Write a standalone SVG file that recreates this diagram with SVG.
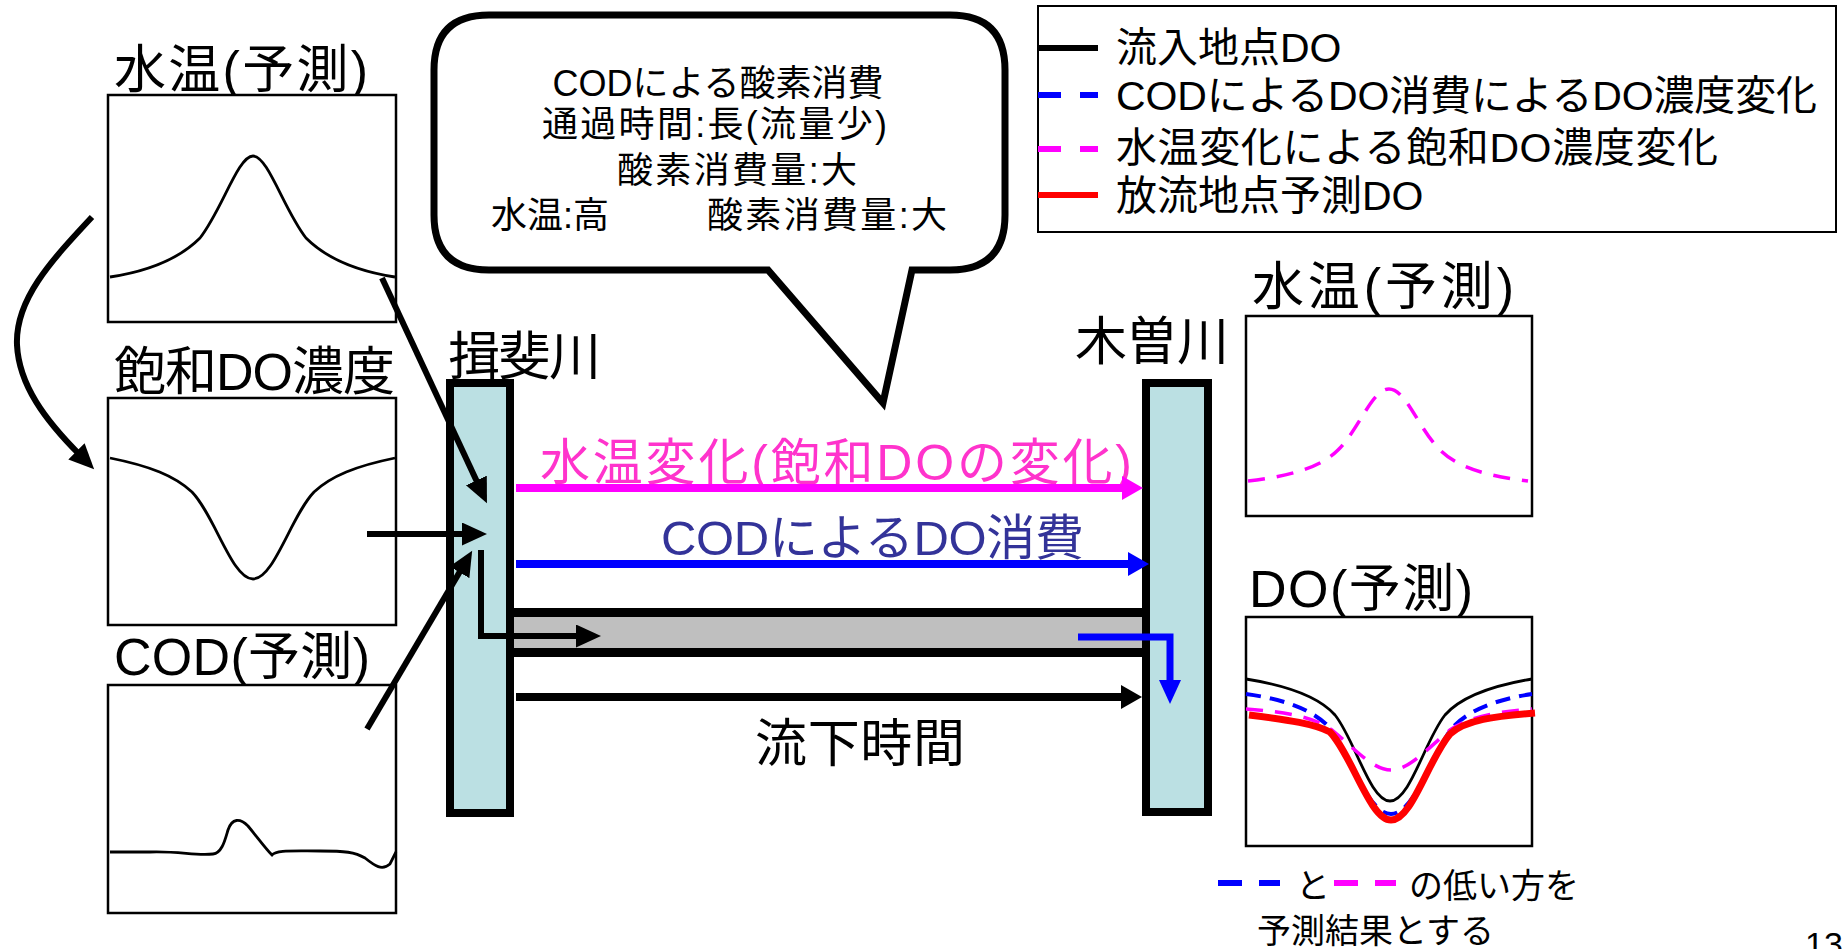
<svg xmlns="http://www.w3.org/2000/svg" width="1847" height="949" viewBox="0 0 1847 949">
<style>
text{font-family:"Liberation Sans","Noto Sans CJK JP",sans-serif;fill:#000}
.t52{font-size:52px}
.t36{font-size:36px}
.t41{font-size:41px}
.t34{font-size:34px}
.box{fill:#fff;stroke:#000;stroke-width:2.5}
.crv{fill:none;stroke:#000;stroke-width:2.8}
.river{fill:#bbe0e3;stroke:#000;stroke-width:8}
.conn{fill:none;stroke:#000;stroke-width:6}
.mdash{fill:none;stroke:#ff00ff;stroke-width:3.5;stroke-dasharray:17 12}
.bdash{fill:none;stroke:#0000ff;stroke-width:4;stroke-dasharray:15 9}
</style>
<defs>
<marker id="hc" markerUnits="userSpaceOnUse" markerWidth="26" markerHeight="24" refX="5" refY="11.5" orient="auto"><path d="M0,0 L25,11.5 L0,23 Z" fill="#000"/></marker>
<marker id="hk" markerUnits="userSpaceOnUse" markerWidth="22" markerHeight="24" refX="3" refY="12" orient="auto"><path d="M0,0 L21,12 L0,24 Z" fill="#000"/></marker>
<marker id="hm" markerUnits="userSpaceOnUse" markerWidth="22" markerHeight="24" refX="3" refY="12" orient="auto"><path d="M0,0 L21,12 L0,24 Z" fill="#ff00ff"/></marker>
<marker id="hb" markerUnits="userSpaceOnUse" markerWidth="22" markerHeight="24" refX="3" refY="12" orient="auto"><path d="M0,0 L21,12 L0,24 Z" fill="#0000ff"/></marker>
<marker id="hb2" markerUnits="userSpaceOnUse" markerWidth="25" markerHeight="23" refX="5" refY="11" orient="auto"><path d="M0,0 L24,11 L0,22 Z" fill="#0000ff"/></marker>
</defs>
<rect width="1847" height="949" fill="#fff"/>

<g id="plot-left-temp">
<text class="t52" x="114" y="88" textLength="254" lengthAdjust="spacing">水温(予測)</text>
<rect class="box" x="108" y="95" width="288" height="227"/>
<path class="crv" d="M110,277 C150,271 180,258 200,238 C222,210 238,156 253,156 C268,156 284,210 306,238 C326,258 356,271 395,277"/>
</g>

<g id="plot-left-do">
<text class="t52" x="114" y="390" textLength="281" lengthAdjust="spacing">飽和DO濃度</text>
<rect class="box" x="108" y="398" width="288" height="227"/>
<path class="crv" d="M110,458 C150,466 175,476 192,492 C215,516 232,579 253,579 C274,579 291,516 314,492 C331,476 356,466 395,458"/>
</g>

<g id="plot-left-cod">
<text class="t52" x="114" y="675" textLength="256" lengthAdjust="spacing">COD(予測)</text>
<rect class="box" x="108" y="685" width="288" height="228"/>
<path class="crv" d="M110,852 L150,852 C180,851 195,856 213,854 C222,853 225,840 228,830 C232,818 240,818 248,826 C258,838 265,848 272,855 C276,850 290,851 320,851 C345,851 355,852 365,858 C375,866 382,871 390,864 L396,852"/>
</g>

<g id="bubble">
<path d="M489,15 H950 Q1005,15 1005,70 V215 Q1005,270 950,270 H912 L883,403 L768,270 H489 Q434,270 434,215 V70 Q434,15 489,15 Z" fill="#fff" stroke="#000" stroke-width="7" stroke-linejoin="miter"/>
<text class="t36" x="718" y="96" text-anchor="middle">CODによる酸素消費</text>
<text class="t36" x="542" y="137" textLength="345" lengthAdjust="spacing">通過時間:長(流量少)</text>
<text class="t36" x="617" y="183" textLength="240" lengthAdjust="spacing">酸素消費量:大</text>
<text class="t36" x="491" y="228">水温:高</text>
<text class="t36" x="707" y="228" textLength="240" lengthAdjust="spacing">酸素消費量:大</text>
</g>

<g id="legend">
<rect x="1038" y="6" width="798" height="226" fill="#fff" stroke="#000" stroke-width="2"/>
<line x1="1038" y1="48" x2="1098" y2="48" stroke="#000" stroke-width="6"/>
<line x1="1038" y1="95" x2="1098" y2="95" stroke="#0000ff" stroke-width="6" stroke-dasharray="23 19"/>
<line x1="1038" y1="149" x2="1098" y2="149" stroke="#ff00ff" stroke-width="6" stroke-dasharray="23 19"/>
<line x1="1038" y1="195" x2="1098" y2="195" stroke="#ff0000" stroke-width="6"/>
<text class="t41" x="1116" y="62">流入地点DO</text>
<text class="t41" x="1116" y="110" textLength="701" lengthAdjust="spacing">CODによるDO消費によるDO濃度変化</text>
<text class="t41" x="1116" y="162" textLength="602" lengthAdjust="spacing">水温変化による飽和DO濃度変化</text>
<text class="t41" x="1116" y="210">放流地点予測DO</text>
</g>

<g id="channel">
<rect x="514" y="612" width="632" height="41" fill="#bfbfbf"/>
<line x1="514" y1="612.5" x2="1146" y2="612.5" stroke="#000" stroke-width="9"/>
<line x1="514" y1="652.5" x2="1146" y2="652.5" stroke="#000" stroke-width="9"/>
</g>

<g id="river-ibi">
<text class="t52" x="448" y="375" textLength="153" lengthAdjust="spacing">揖斐川</text>
<rect class="river" x="450" y="383" width="60" height="430"/>
</g>

<g id="river-kiso">
<text class="t52" x="1075" y="360" textLength="154" lengthAdjust="spacing">木曽川</text>
<rect class="river" x="1146" y="383" width="62" height="429"/>
</g>

<g id="labels">
<text x="540" y="480" font-size="50" fill="#ff33cc" style="fill:#ff33cc" textLength="592" lengthAdjust="spacing">水温変化(飽和DOの変化)</text>
<text x="661" y="555" font-size="49" style="fill:#333399" textLength="423" lengthAdjust="spacing">CODによるDO消費</text>
<text class="t52" x="755" y="762" textLength="210" lengthAdjust="spacing">流下時間</text>
</g>

<g id="connectors">
<path class="conn" d="M92,217 C50,262 15,300 17,345 C19,385 45,420 80,455" marker-end="url(#hc)"/>
<path class="conn" d="M382,278 L478.5,485" marker-end="url(#hc)"/>
<path class="conn" d="M367,534 L467,534" marker-end="url(#hc)"/>
<path class="conn" d="M367,729 L462,568" marker-end="url(#hc)"/>
<path class="conn" d="M481,550 L481,636 L581,636" marker-end="url(#hc)"/>
<path d="M516,488 L1125,488" fill="none" stroke="#ff00ff" stroke-width="8" marker-end="url(#hm)"/>
<path d="M516,564 L1131,564" fill="none" stroke="#0000ff" stroke-width="8" marker-end="url(#hb)"/>
<path d="M516,697 L1124,697" fill="none" stroke="#000" stroke-width="8" marker-end="url(#hk)"/>
<path d="M1078,637 L1170,637 L1170,685" fill="none" stroke="#0000ff" stroke-width="7" marker-end="url(#hb2)"/>
</g>

<g id="plot-right-temp">
<text class="t52" x="1252" y="305" textLength="262" lengthAdjust="spacing">水温(予測)</text>
<rect class="box" x="1246" y="316" width="286" height="200"/>
<path class="mdash" d="M1248,481 C1290,476 1320,468 1338,450 C1360,428 1372,389 1389,389 C1406,389 1418,428 1440,450 C1458,468 1488,476 1528,481"/>
</g>

<g id="plot-right-do">
<text class="t52" x="1249" y="607" textLength="224" lengthAdjust="spacing">DO(予測)</text>
<rect class="box" x="1246" y="617" width="286" height="229"/>
<path class="crv" d="M1246,679 C1290,686 1320,698 1335,715 C1355,740 1370,801 1390,801 C1410,801 1425,740 1445,715 C1460,698 1490,686 1532,679"/>
<path class="bdash" d="M1246,694 C1290,700 1315,712 1330,728 C1350,755 1368,814 1391,814 C1414,814 1432,755 1452,728 C1467,712 1492,700 1532,694"/>
<path class="mdash" d="M1246,709 C1290,712 1315,718 1332,730 C1352,746 1372,770 1391,770 C1410,770 1430,746 1450,730 C1467,718 1492,712 1532,709"/>
<path fill="none" stroke="#ff0000" stroke-width="7" d="M1249,715 C1290,720 1315,724 1330,732 C1352,755 1370,820 1391,820 C1412,820 1428,760 1450,734 C1465,720 1495,716 1535,713"/>
</g>

<g id="note">
<line x1="1218" y1="883" x2="1280" y2="883" stroke="#0000ff" stroke-width="6" stroke-dasharray="24 17"/>
<text class="t34" x="1296" y="898">と</text>
<line x1="1334" y1="883" x2="1396" y2="883" stroke="#ff00ff" stroke-width="6" stroke-dasharray="24 17"/>
<text class="t34" x="1409" y="898">の低い方を</text>
<text class="t34" x="1257" y="943">予測結果とする</text>
</g>

<g id="page-number">
<text class="t34" x="1805" y="956">13</text>
</g>
</svg>
